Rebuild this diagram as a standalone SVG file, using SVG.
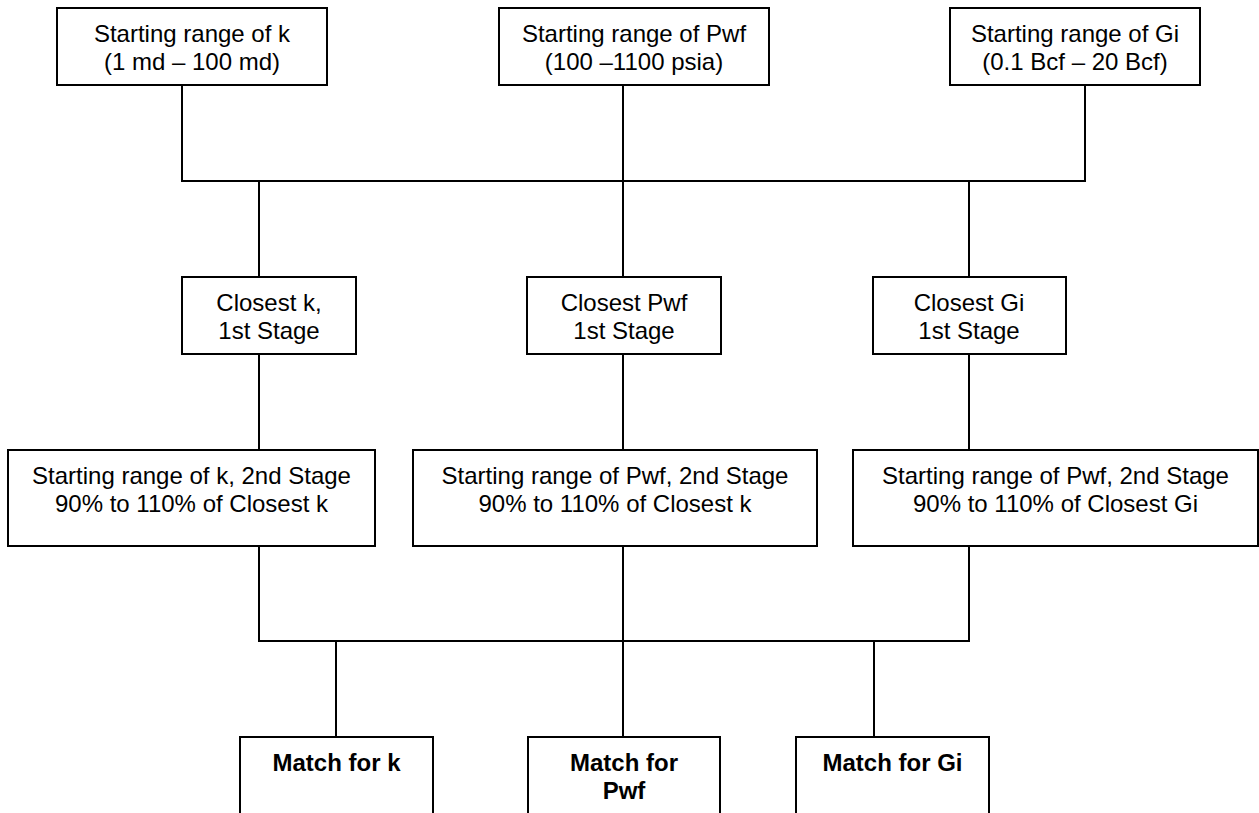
<svg xmlns="http://www.w3.org/2000/svg" width="1259" height="813" viewBox="0 0 1259 813">
<style>
rect{fill:#fff;stroke:#000;stroke-width:2}
line,polyline{stroke:#000;stroke-width:2;fill:none}
text{font-family:"Liberation Sans",Arial,sans-serif;font-size:24px;fill:#000;text-anchor:middle}
.b{font-weight:bold}
</style>
<rect x="0" y="0" width="1259" height="813" style="stroke:none;fill:#fff"/>
<g id="connectors">
<line x1="182" y1="85" x2="182" y2="181"/>
<line x1="623" y1="85" x2="623" y2="181"/>
<line x1="1085" y1="85" x2="1085" y2="181"/>
<line x1="181" y1="181" x2="1086" y2="181"/>
<line x1="259" y1="181" x2="259" y2="277"/>
<line x1="623" y1="181" x2="623" y2="277"/>
<line x1="969" y1="181" x2="969" y2="277"/>
<line x1="259" y1="354" x2="259" y2="450"/>
<line x1="623" y1="354" x2="623" y2="450"/>
<line x1="969" y1="354" x2="969" y2="450"/>
<line x1="259" y1="546" x2="259" y2="641"/>
<line x1="623" y1="546" x2="623" y2="641"/>
<line x1="969" y1="546" x2="969" y2="641"/>
<line x1="258" y1="641" x2="970" y2="641"/>
<line x1="336" y1="641" x2="336" y2="737"/>
<line x1="623" y1="641" x2="623" y2="737"/>
<line x1="874" y1="641" x2="874" y2="737"/>
</g>
<g id="start-k">
<rect x="57" y="8" width="270" height="77"/>
<text x="192" y="42">Starting range of k</text>
<text x="192" y="70">(1 md – 100 md)</text>
</g>
<g id="start-pwf">
<rect x="499" y="8" width="270" height="77"/>
<text x="634" y="42">Starting range of Pwf</text>
<text x="634" y="70">(100 –1100 psia)</text>
</g>
<g id="start-gi">
<rect x="950" y="8" width="250" height="77"/>
<text x="1075" y="42">Starting range of Gi</text>
<text x="1075" y="70">(0.1 Bcf – 20 Bcf)</text>
</g>
<g id="closest-k">
<rect x="182" y="277" width="174" height="77"/>
<text x="269" y="311">Closest k,</text>
<text x="269" y="339">1st Stage</text>
</g>
<g id="closest-pwf">
<rect x="527" y="277" width="194" height="77"/>
<text x="624" y="311">Closest Pwf</text>
<text x="624" y="339">1st Stage</text>
</g>
<g id="closest-gi">
<rect x="873" y="277" width="193" height="77"/>
<text x="969" y="311">Closest Gi</text>
<text x="969" y="339">1st Stage</text>
</g>
<g id="stage2-k">
<rect x="8" y="450" width="367" height="96"/>
<text x="191.5" y="484">Starting range of k, 2nd Stage</text>
<text x="191.5" y="512">90% to 110% of Closest k</text>
</g>
<g id="stage2-pwf">
<rect x="413" y="450" width="404" height="96"/>
<text x="615" y="484">Starting range of Pwf, 2nd Stage</text>
<text x="615" y="512">90% to 110% of Closest k</text>
</g>
<g id="stage2-gi">
<rect x="853" y="450" width="405" height="96"/>
<text x="1055.5" y="484">Starting range of Pwf, 2nd Stage</text>
<text x="1055.5" y="512">90% to 110% of Closest Gi</text>
</g>
<g id="match-k">
<rect x="240" y="737" width="193" height="90"/>
<text class="b" x="336.5" y="771">Match for k</text>
</g>
<g id="match-pwf">
<rect x="528" y="737" width="192" height="90"/>
<text class="b" x="624" y="771">Match for</text>
<text class="b" x="624" y="799">Pwf</text>
</g>
<g id="match-gi">
<rect x="796" y="737" width="193" height="90"/>
<text class="b" x="892.5" y="771">Match for Gi</text>
</g>
</svg>
